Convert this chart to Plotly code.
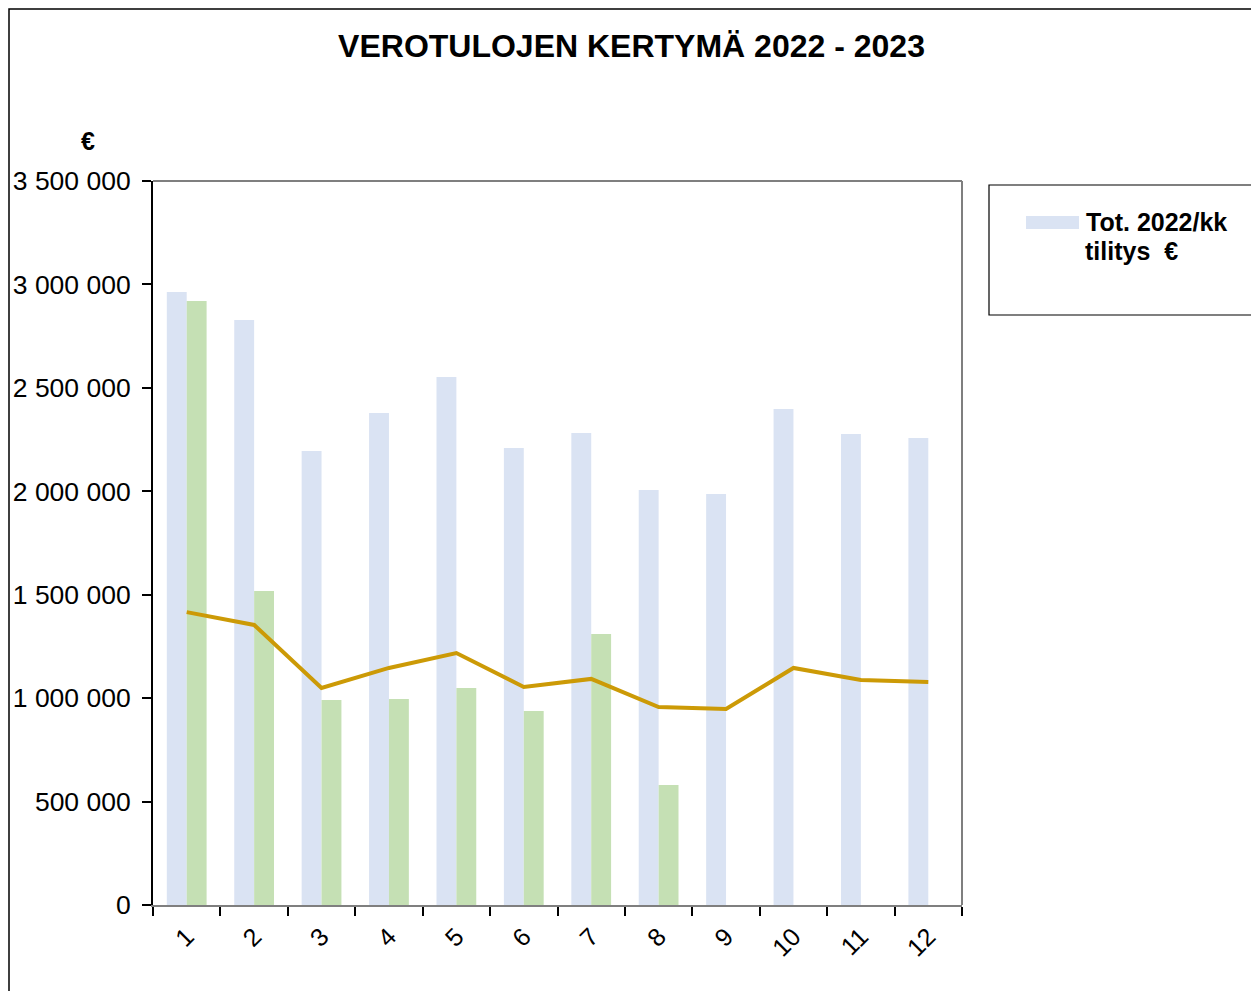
import plotly.graph_objects as go

months = ["1", "2", "3", "4", "5", "6", "7", "8", "9", "10", "11", "12"]
tot_2022 = [2963000, 2828000, 2195000, 2378000, 2552000, 2209000,
            2282000, 2006000, 1987000, 2398000, 2277000, 2258000]
tot_2023 = [2920000, 1518000, 991000, 996000, 1049000, 938000,
            1310000, 580000, None, None, None, None]
avg_line = [1416000, 1354000, 1049000, 1146000, 1218000, 1054000,
            1093000, 957000, 948000, 1146000, 1088000, 1078000]
y_ticks = [0, 500000, 1000000, 1500000, 2000000, 2500000, 3000000, 3500000]

W, H = 1259, 991
OFF = 8  # page body margin
L, R, T, B = 153 - OFF, 962 - OFF, 181 - OFF, 905 - OFF


def px(x):
    return (x - OFF - L) / (R - L)


def py(y):
    return (B - (y - OFF)) / (B - T)


FONT = "Arial, Liberation Sans, sans-serif"

fig = go.Figure()
fig.add_trace(go.Bar(x=months, y=tot_2022, name="Tot. 2022/kk tilitys  €",
                     marker=dict(color="#DAE3F3", line=dict(width=0)), showlegend=False))
fig.add_trace(go.Bar(x=months, y=tot_2023, name="Tot. 2023/kk tilitys  €",
                     marker=dict(color="#C5E0B4", line=dict(width=0)), showlegend=False))
fig.add_trace(go.Scatter(x=months, y=avg_line, mode="lines", name="Keskiarvo",
                         line=dict(color="#CC9A06", width=4), showlegend=False))

fig.update_layout(
    width=W, height=H,
    margin=dict(l=L, r=W - R, t=T, b=H - B, autoexpand=False),
    paper_bgcolor="white", plot_bgcolor="white",
    barmode="group", bargap=0.41, bargroupgap=0,
    separators=", ",
    font=dict(family=FONT, color="black", size=26),
    title=dict(text="<b>VEROTULOJEN KERTYMÄ 2022 - 2023</b>",
               x=(631.5 - OFF) / W, xref="container", xanchor="center",
               y=1 - (46 - OFF) / H, yref="container", yanchor="middle",
               font=dict(family=FONT, size=32, color="black")),
    xaxis=dict(type="category", showgrid=False, showline=True, linecolor="#7F7F7F",
               linewidth=2, ticks="outside", tickson="boundaries", ticklen=9,
               tickcolor="black", tickwidth=1.5, tickangle=-45, automargin=False,
               ticklabelstandoff=5, tickfont=dict(size=25), range=[-0.5, 11.5]),
    yaxis=dict(range=[0, 3500000], tickvals=y_ticks, tickformat=",d",
               showgrid=False, showline=True, linecolor="black", linewidth=2,
               ticks="outside", ticklen=9, tickcolor="black", tickwidth=1.5,
               automargin=False, ticklabelstandoff=6, tickfont=dict(size=26.5),
               zeroline=False),
)

# plot frame (top/right grey)
fig.add_shape(type="line", xref="paper", yref="paper", x0=0, x1=1, y0=1, y1=1,
              line=dict(color="#7F7F7F", width=2))
fig.add_shape(type="line", xref="paper", yref="paper", x0=1, x1=1, y0=0, y1=1,
              line=dict(color="#7F7F7F", width=2))
# outer chart border
fig.add_shape(type="rect", xref="paper", yref="paper", x0=px(9), x1=px(1253),
              y0=py(1010), y1=py(9), line=dict(color="black", width=1.5))
# legend box
fig.add_shape(type="rect", xref="paper", yref="paper", x0=px(989), x1=px(1253),
              y0=py(315), y1=py(185), line=dict(color="black", width=1.2))
fig.add_shape(type="rect", xref="paper", yref="paper", x0=px(1026), x1=px(1079),
              y0=py(229), y1=py(216), line=dict(width=0), fillcolor="#DAE3F3")
fig.add_annotation(text="<b>Tot. 2022/kk</b>", xref="paper", yref="paper",
                   x=px(1084), y=py(222), xanchor="left", yanchor="middle",
                   showarrow=False, font=dict(size=25, family=FONT))
fig.add_annotation(text="<b>tilitys  €</b>", xref="paper", yref="paper",
                   x=px(1083), y=py(251), xanchor="left", yanchor="middle",
                   showarrow=False, font=dict(size=25, family=FONT))
# y axis unit
fig.add_annotation(text="<b>€</b>", xref="paper", yref="paper",
                   x=px(88), y=py(141), xanchor="center", yanchor="middle",
                   showarrow=False, font=dict(size=25, family=FONT))

fig.write_html("out.html")
